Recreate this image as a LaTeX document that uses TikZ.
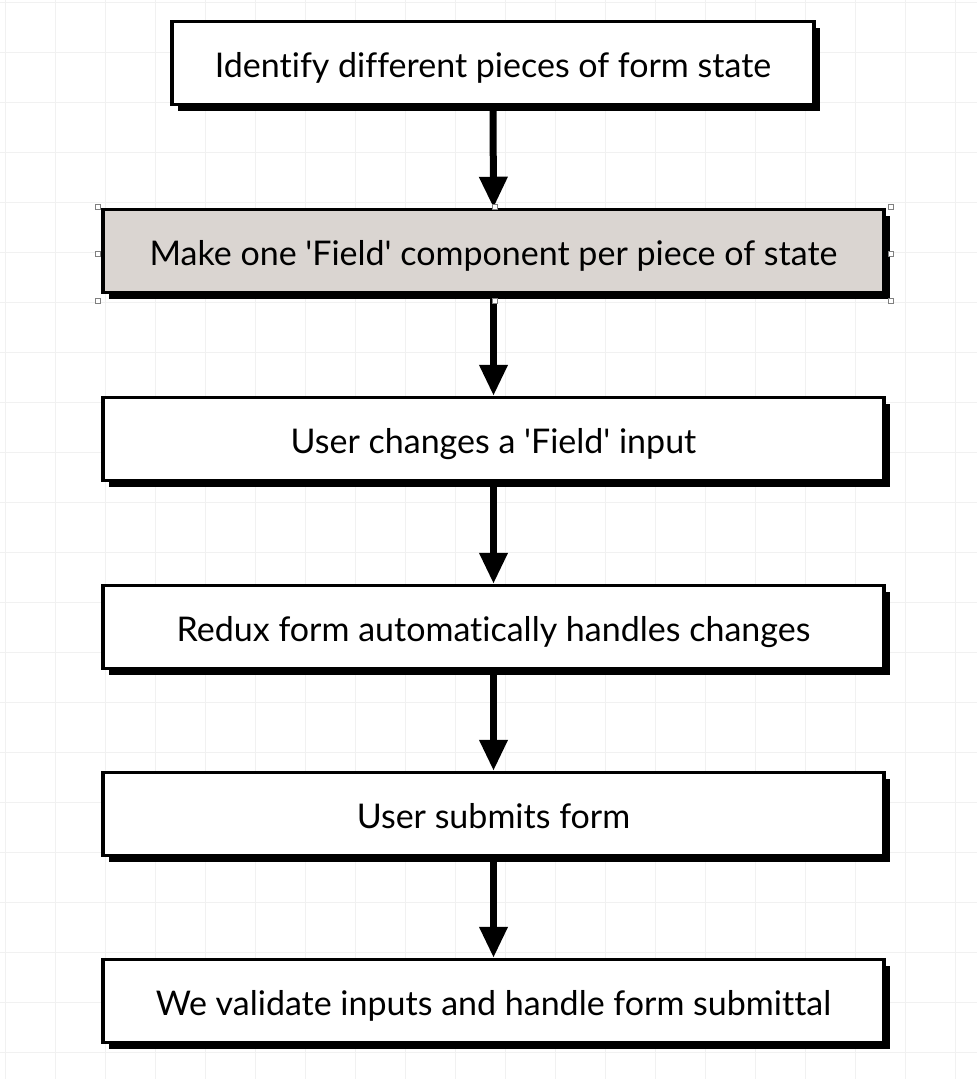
\documentclass[tikz,border=0pt]{standalone}
\usepackage{fontspec}
\setmainfont[Ligatures=NoCommon]{Lato}
\usetikzlibrary{arrows.meta,shadows}
\definecolor{gridgray}{RGB}{241,241,241}
\definecolor{pickgray}{RGB}{218,213,209}
\tikzset{
  stepbox/.style={draw=black, line width=3.5pt, fill=white, minimum width=781pt, minimum height=83pt,
    inner sep=0pt, text height=28pt, text depth=0pt, font=\fontsize{34}{38}\selectfont,
    drop shadow={shadow xshift=6pt, shadow yshift=-6pt, fill=black, opacity=1}},
  flow/.style={line width=7pt, -{Triangle[width=27pt,length=31pt]}},
  handle/.style={draw=gray, fill=white, line width=0.6pt, minimum size=5pt, inner sep=0pt}
}
\begin{document}
\begin{tikzpicture}[x=1pt,y=-1pt]
    \useasboundingbox (0,0) rectangle (977,1079);
    \fill [white] (0,0) rectangle (977,1079);
    \foreach \gx in {5,55,...,977}
        \draw [gridgray, line width=1pt] (\gx,0) -- (\gx,1079);
    \foreach \gy in {2,52,...,1079}
        \draw [gridgray, line width=1pt] (0,\gy) -- (977,\gy);
    \node [stepbox, minimum width=642pt] (identify) at (493,63) {Identify different pieces of form state};
    \node [stepbox, fill=pickgray] (field) at (493.5,251) {Make one \textquotesingle Field\textquotesingle{} component per piece of state};
    \node [stepbox] (change) at (493.5,439) {User changes a \textquotesingle Field\textquotesingle{} input};
    \node [stepbox] (handle) at (493.5,627) {Redux form automatically handles changes};
    \node [stepbox] (submit) at (493.5,814) {User submits form};
    \node [stepbox] (validate) at (493.5,1001) {We validate inputs and handle form submittal};
    \draw [flow] (identify.south) -- (field.north);
    \draw [flow] (field.south) -- (change.north);
    \draw [flow] (change.south) -- (handle.north);
    \draw [flow] (handle.south) -- (submit.north);
    \draw [flow] (submit.south) -- (validate.north);
    \foreach \hx/\hy in {98/207,495/207,891/207,98/254,891/254,98/301,495/301,891/301}
        \node [handle] at (\hx,\hy) {};
\end{tikzpicture}
\end{document}
